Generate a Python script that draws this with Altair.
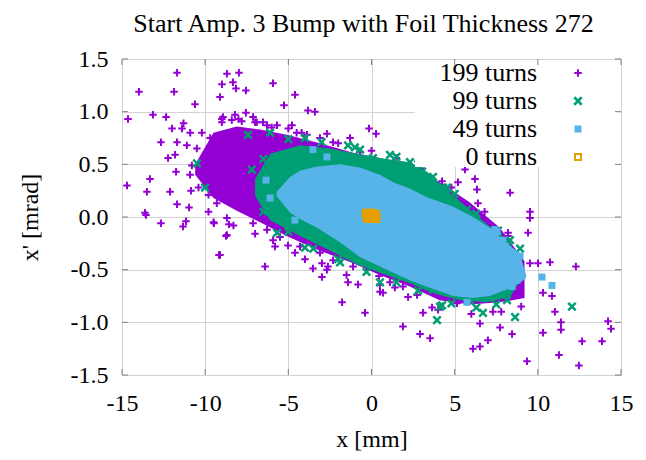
import altair as alt
import pandas as pd

# ---------------- data ----------------
x_ticks = [-15, -10, -5, 0, 5, 10, 15]
y_ticks = [-1.5, -1.0, -0.5, 0.0, 0.5, 1.0, 1.5]
series_labels = ["199 turns", "99 turns", "49 turns", "0 turns"]
series_colors = ["#9400d3", "#009e73", "#56b4e9", "#e69f00"]
title_text = "Start Amp. 3 Bump with Foil Thickness 272"

# dense cores (upper / lower edge of each cloud)
purple_core_x = [-10.6, -9.5, -8.1, -6.7, -5.1, -3.1, -1.1, 0.5, 2.3, 4.1, 5.9, 7.7, 9.2]
purple_core_top = [0.50, 0.80, 0.86, 0.83, 0.78, 0.70, 0.61, 0.56, 0.48, 0.33, 0.14, -0.10, -0.42]
purple_core_bot = [0.40, 0.18, 0.06, -0.05, -0.18, -0.32, -0.44, -0.55, -0.66, -0.79, -0.83, -0.81, -0.77]

green_core_x = [-7.0, -6.1, -4.3, -2.49, -0.87, 0.51, 2.31, 3.34, 4.30, 5.32, 6.94, 8.33, 9.05]
green_core_top = [0.36, 0.60, 0.68, 0.65, 0.60, 0.56, 0.52, 0.43, 0.29, 0.15, -0.07, -0.24, -0.50]
green_core_bot = [0.20, -0.03, -0.18, -0.32, -0.45, -0.53, -0.63, -0.70, -0.75, -0.79, -0.81, -0.76, -0.58]

blue_core_x = [-5.7, -4.9, -4.3, -3.3, -1.9, -0.7, 0.5, 1.3, 2.3, 3.3, 4.9, 6.1, 7.1, 8.1, 8.9, 9.3]
blue_core_top = [0.24, 0.38, 0.44, 0.48, 0.50, 0.47, 0.40, 0.33, 0.27, 0.19, 0.10, 0.00, -0.10, -0.25, -0.34, -0.55]
blue_core_bot = [0.20, 0.04, -0.02, -0.10, -0.24, -0.38, -0.47, -0.53, -0.60, -0.66, -0.75, -0.77, -0.75, -0.69, -0.63, -0.58]

# scattered particles
purple_x = [-11.69, -13.98, -11.87, -10.61, -8.69, -7.97, -8.99, -8.33, -8.15, -7.55,
            -9.11, -5.92, -4.60, -5.26, -3.82, -3.40, -0.15, 0.27, -14.64, -13.14,
            -12.35, -11.99, -12.66, -11.69, -11.39, -12.23, -11.81, -14.70, -13.32, -13.50,
            -12.11, -11.69, -10.97, -13.62, -11.75, -10.91, -10.31, -10.85, -1.29, -2.68,
            -7.55, -7.12, -8.93, -8.21, -4.78, -6.28,
            -13.56, -12.66, -11.33, -11.15, -9.47, -8.69, -8.57, -8.75, -9.17, -6.40,
            -5.92, -5.02, -4.60, -3.52, -2.98, -2.98, -2.62, -1.41, -0.81, -1.77,
            -0.39, 0.51,
            5.62, 4.24, 5.20, 6.22, 6.34, 6.40, 8.33, 9.53, 9.53, 9.41,
            8.21, 9.53, 10.01, 10.73, 12.29, 10.31, 10.85, 11.03, 11.39, 11.39,
            10.31, 12.66, 14.22, 14.40, 13.86, 11.27, 12.47, 9.35, 8.45, 7.00,
            6.52, 6.10, 6.52, 3.52, 2.92, 1.89, 3.10, 3.64, 4.24, 5.14,
            7.30, 7.73, 0.45, 0.69, 1.41, 2.74,
            -9.5, -8.69, -9.11, 4.42, 5.3, 6.1, 2.31,
            -6.52, -5.68, -3.88, -3.10, -2.31, -0.69,
            -7.12, -6.28, -5.50, -4.30, -3.88, -3.10, -2.31, -1.11, -0.27, -2.68,
            1.11, 1.89, 3.52, 4.90, 5.92,
            -11.3, -10.9, -11.1, -10.5, -10.2, -9.7, -10.0, -10.8, -10.2, -10.4,
            -9.8, -9.3, -9.0, -8.4, -7.8, -6.9, -5.0, -4.2,
            -9.0, -8.0, -7.0, -6.0, -4.5, -2.0, 0.0, 1.5, 3.0, 4.8, 6.8, 8.2,
            -9.8, -8.3, -7.0, -5.8, -4.0, -1.5, 0.5, 2.2, 4.0, 6.0, 7.8, 9.0]
purple_y = [1.37, 1.19, 1.19, 1.07, 1.36, 1.37, 1.26, 1.28, 1.22, 1.20,
            1.14, 1.27, 1.16, 1.06, 1.01, 1.00, 0.84, 0.79, 0.93, 0.97,
            0.95, 0.84, 0.71, 0.71, 0.84, 0.56, 0.59, 0.30, 0.36, 0.24,
            0.24, 0.12, 0.09, 0.04, 0.43, 0.40, 0.41, 0.25, 0.75, 0.79,
            0.99, 0.95, 0.95, 0.97, 0.87, 0.87,
            0.02, -0.06, -0.09, -0.04, -0.06, -0.01, -0.07, -0.18, -0.36, -0.47,
            -0.22, -0.27, -0.34, -0.49, -0.57, -0.44, -0.47, -0.62, -0.64, -0.81,
            -0.91, -0.71,
            0.45, 0.34, 0.33, 0.36, 0.26, 0.13, 0.23, 0.05, -0.01, -0.15,
            -0.15, -0.44, -0.44, -0.43, -0.47, -0.72, -0.75, -0.90, -1.00, -1.07,
            -1.10, -1.18, -0.99, -1.06, -1.18, -1.31, -1.41, -1.37, -1.11, -1.17,
            -1.01, -1.25, -1.23, -1.15, -1.11, -1.04, -0.91, -0.86, -0.74, -0.82,
            -0.90, -1.05, -0.56, -0.72, -0.67, -0.74,
            -0.05, -0.17, -0.36, 0.09, 0.07, 0.05, 0.38,
            0.90, 0.87, 0.78, 0.75, 0.71, 0.62,
            -0.06, -0.12, -0.19, -0.28, -0.24, -0.34, -0.41, -0.47, -0.50, -0.50,
            -0.62, -0.66, -0.69, -0.76, -0.72,
            0.89, 0.80, 0.68, 0.65, 0.80, 0.75, 0.59, 0.49, 0.43, 0.28,
            0.21, 0.13, 0.93, 0.92, 0.91, 0.90, 0.84, 0.80,
            0.90, 0.93, 0.90, 0.85, 0.80, 0.70, 0.63, 0.56, 0.46, 0.28, 0.05, -0.18,
            0.05, -0.08, -0.16, -0.28, -0.40, -0.55, -0.64, -0.76, -0.88, -0.92, -0.90, -0.85]

green_x = [3.94, 4.24, 6.70, 8.63, 8.15, 12.05, 8.93, 4.54, 2.31, 3.04,
           3.70, 8.33, 3.70, 4.30, 0.09, 4.12, -10.49, -10.01, -7.42, -6.10,
           -4.00, -1.41, -5.68, -4.00, -0.69, 1.11, 5.74, 7.12, -1.89, 0.51, 5.92,
           -5.0, -3.0, -1.0, 1.5, 2.8, 5.0, 6.3, 7.6, -6.5, -7.2,
           -6.5, -5.0, -3.5, -2.0, -0.3, 1.5, 2.8, 4.8, 6.3, 7.5]
green_y = [-0.98, -0.84, -0.91, -0.95, -0.79, -0.85, -0.30, 0.28, 0.52, 0.43,
           -0.69, -0.22, 0.38, 0.28, 0.56, -0.85, 0.51, 0.28, 0.78, 0.80,
           0.75, 0.68, -0.15, -0.29, 0.64, 0.59, 0.07, -0.12, -0.43, -0.62, -0.79,
           0.74, 0.71, 0.66, 0.57, 0.50, 0.22, 0.03, -0.13, 0.55, 0.45,
           0.05, -0.14, -0.30, -0.40, -0.52, -0.62, -0.70, -0.82, -0.86, -0.83]

blue_x = [10.25, 10.85, 8.93, 8.93, 8.03, 7.55, 5.74, -6.34, -6.10, -4.60,
          -3.52, -2.68, 7.91, 8.75, 8.45, 8.33, 7.42]
blue_y = [-0.57, -0.65, -0.52, -0.37, -0.28, -0.14, -0.81, 0.35, 0.18, -0.03,
          0.64, 0.57, -0.22, -0.60, -0.66, -0.65, -0.12]

orange_x = [-0.35, -0.25, -0.15, -0.05, 0.05, 0.15, 0.25, 0.30, -0.30, -0.20,
            -0.10, 0.00, 0.10, 0.20, 0.28, -0.32]
orange_y = [0.04, 0.03, 0.04, 0.03, 0.04, 0.03, 0.03, 0.00, -0.01, -0.02,
            -0.01, 0.00, -0.02, -0.01, -0.02, 0.02]

# ---------------- chart ----------------
W, H = 499, 316
FONT = "Liberation Serif"
PLUS = "M-1,0L1,0M0,-1L0,1"
CROSS = "M-1,-1L1,1M-1,1L1,-1"

xs = alt.Scale(domain=[-15, 15], nice=False, zero=False)
ys = alt.Scale(domain=[-1.5, 1.5], nice=False, zero=False)

x_axis = alt.Axis(values=x_ticks, title="x [mm]", grid=True, ticks=False, domain=False,
                  labelFont=FONT, labelFontSize=24, labelPadding=16, labelColor="black",
                  labelFlush=False, labelOverlap=False,
                  titleFont=FONT, titleFontSize=24, titleFontWeight="normal",
                  titleColor="black", titlePadding=12,
                  gridColor="#d2d2d2", gridWidth=1)
y_axis = alt.Axis(values=y_ticks, title="x' [mrad]", grid=True, ticks=False, domain=False,
                  format=".1f", labelFont=FONT, labelFontSize=24, labelPadding=14,
                  labelColor="black", labelOverlap=False,
                  titleFont=FONT, titleFontSize=24, titleFontWeight="normal",
                  titleColor="black", titlePadding=28,
                  gridColor="#d2d2d2", gridWidth=1)

X = alt.X("x:Q", scale=xs, axis=x_axis)
Y = alt.Y("y:Q", scale=ys, axis=y_axis)


def core(xv, top, bot, color):
    df = pd.DataFrame({"x": xv, "y": top, "y2": bot})
    return alt.Chart(df).mark_area(color=color, opacity=1, interpolate="linear").encode(
        x=X, y=Y, y2="y2:Q")


def pts(xv, yv, **mk):
    df = pd.DataFrame({"x": xv, "y": yv})
    return alt.Chart(df).mark_point(opacity=1, **mk).encode(x=X, y=Y)


styles = [
    dict(shape=PLUS, filled=False, color=series_colors[0], strokeWidth=2, size=56),
    dict(shape=CROSS, filled=False, color=series_colors[1], strokeWidth=2.5, size=56),
    dict(shape="square", filled=True, color=series_colors[2], size=49, strokeWidth=0),
    dict(shape="square", filled=False, color=series_colors[3], strokeWidth=2, size=36),
]

layers = [
    core(purple_core_x, purple_core_top, purple_core_bot, series_colors[0]),
    pts(purple_x, purple_y, **styles[0]),
    core(green_core_x, green_core_top, green_core_bot, series_colors[1]),
    pts(green_x, green_y, **styles[1]),
    core(blue_core_x, blue_core_top, blue_core_bot, series_colors[2]),
    pts(blue_x, blue_y, **styles[2]),
    pts(orange_x, orange_y, **styles[3]),
]

# opaque key box (gnuplot style, text left of the sample)
base_key = alt.Chart(pd.DataFrame({"k": [0]}))
layers.append(base_key.mark_rect(color="white").encode(
    x=alt.value(293), x2=alt.value(498), y=alt.value(1), y2=alt.value(108)))
for i, (lab, st) in enumerate(zip(series_labels, styles)):
    yy = 14 + 28 * i
    layers.append(base_key.mark_text(text=lab, font=FONT, fontSize=26, align="right",
                                     baseline="middle", color="black").encode(
        x=alt.value(415), y=alt.value(yy)))
    layers.append(base_key.mark_point(opacity=1, **st).encode(
        x=alt.value(456), y=alt.value(yy)))

# inward border ticks on all four sides
tick_col = "#808080"
xt = pd.DataFrame({"x": x_ticks})
yt = pd.DataFrame({"y": y_ticks})
layers.append(alt.Chart(xt).mark_rule(color=tick_col).encode(
    x=X, y=alt.value(H), y2=alt.value(H - 6)))
layers.append(alt.Chart(xt).mark_rule(color=tick_col).encode(
    x=X, y=alt.value(0), y2=alt.value(6)))
layers.append(alt.Chart(yt).mark_rule(color=tick_col).encode(
    y=Y, x=alt.value(0), x2=alt.value(6)))
layers.append(alt.Chart(yt).mark_rule(color=tick_col).encode(
    y=Y, x=alt.value(W), x2=alt.value(W - 6)))

chart = alt.layer(*layers).properties(
    width=W, height=H,
    title=alt.TitleParams(text=title_text, font=FONT, fontSize=26, fontWeight="normal",
                          color="black", anchor="middle", offset=10, dx=-8),
    autosize=alt.AutoSizeParams(type="none"),
    padding={"left": 114, "top": 51, "right": 17, "bottom": 77},
).configure_view(stroke="#808080", strokeWidth=1).configure(
    background="white",
    locale=alt.Locale(number=alt.NumberLocale(decimal=".", thousands=",", grouping=[3],
                                              currency=["", ""], minus="-")),
)

chart.save("out.html", embed_options={"renderer": "svg", "actions": False})
